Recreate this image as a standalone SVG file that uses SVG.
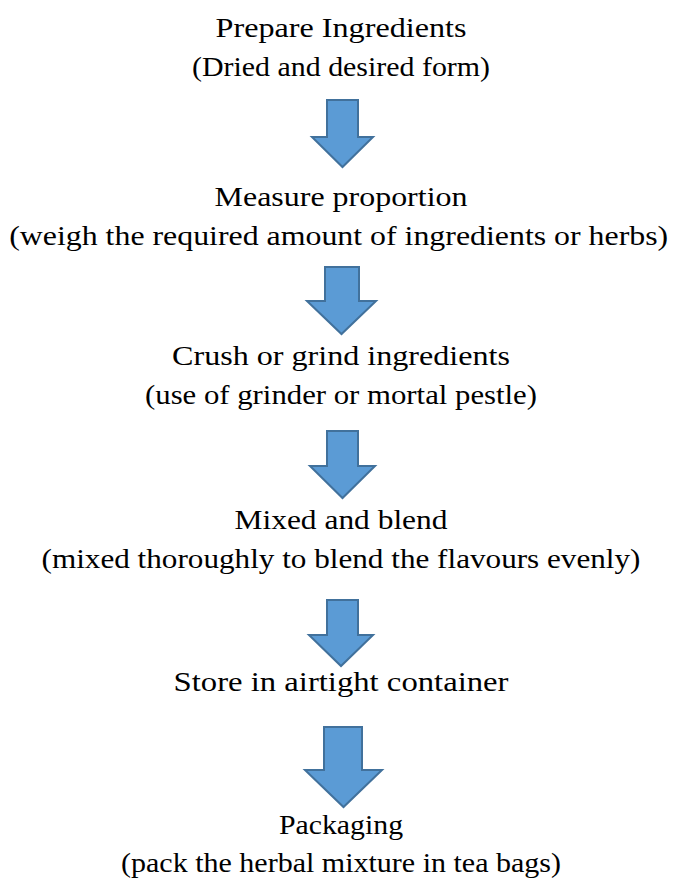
<svg xmlns="http://www.w3.org/2000/svg" width="675" height="888" viewBox="0 0 675 888">
<style>
  .t { font-family: "Liberation Serif", "Times New Roman", serif; font-size: 27.7px; fill: #000; text-anchor: middle; }
  .arrow { fill: #5B9BD5; stroke: #41719C; stroke-width: 2; stroke-linejoin: miter; }
</style>
<rect width="675" height="888" fill="#ffffff"/>
<g transform="translate(341,0) scale(1.155,1)">
  <g id="step1"><text class="t" x="0" y="37" textLength="217.3" lengthAdjust="spacingAndGlyphs">Prepare Ingredients</text><text class="t" x="0" y="76" textLength="258" lengthAdjust="spacingAndGlyphs">(Dried and desired form)</text></g>
  <g id="step2"><text class="t" x="0" y="206" textLength="219" lengthAdjust="spacingAndGlyphs">Measure proportion</text><text class="t" x="-2" y="245" textLength="570.6" lengthAdjust="spacingAndGlyphs">(weigh the required amount of ingredients or herbs)</text></g>
  <g id="step3"><text class="t" x="0" y="365" textLength="292.6" lengthAdjust="spacingAndGlyphs">Crush or grind ingredients</text><text class="t" x="0" y="404" textLength="339.4" lengthAdjust="spacingAndGlyphs">(use of grinder or mortal pestle)</text></g>
  <g id="step4"><text class="t" x="0" y="529" textLength="184.4" lengthAdjust="spacingAndGlyphs">Mixed and blend</text><text class="t" x="0" y="568" textLength="518.6" lengthAdjust="spacingAndGlyphs">(mixed thoroughly to blend the flavours evenly)</text></g>
  <g id="step5"><text class="t" x="0" y="691" textLength="290" lengthAdjust="spacingAndGlyphs">Store in airtight container</text></g>
  <g id="step6"><text class="t" x="0" y="834" textLength="107.4" lengthAdjust="spacingAndGlyphs">Packaging</text><text class="t" x="0" y="872" textLength="381" lengthAdjust="spacingAndGlyphs">(pack the herbal mixture in tea bags)</text></g>
</g>
<g id="connectors">
  <polygon class="arrow" points="327,100 358,100 358,137 373,137 342.5,167 312,137 327,137"/>
  <polygon class="arrow" points="325,267 359,267 359,301 376,301 341.5,334 307,301 325,301"/>
  <polygon class="arrow" points="327,431 358,431 358,466 375,466 342.5,498 310,466 327,466"/>
  <polygon class="arrow" points="327,600 358,600 358,635 373,635 341,666 309,635 327,635"/>
  <polygon class="arrow" points="324,727 362,727 362,770 382,770 343.5,807 305,770 324,770"/>
</g>
</svg>
